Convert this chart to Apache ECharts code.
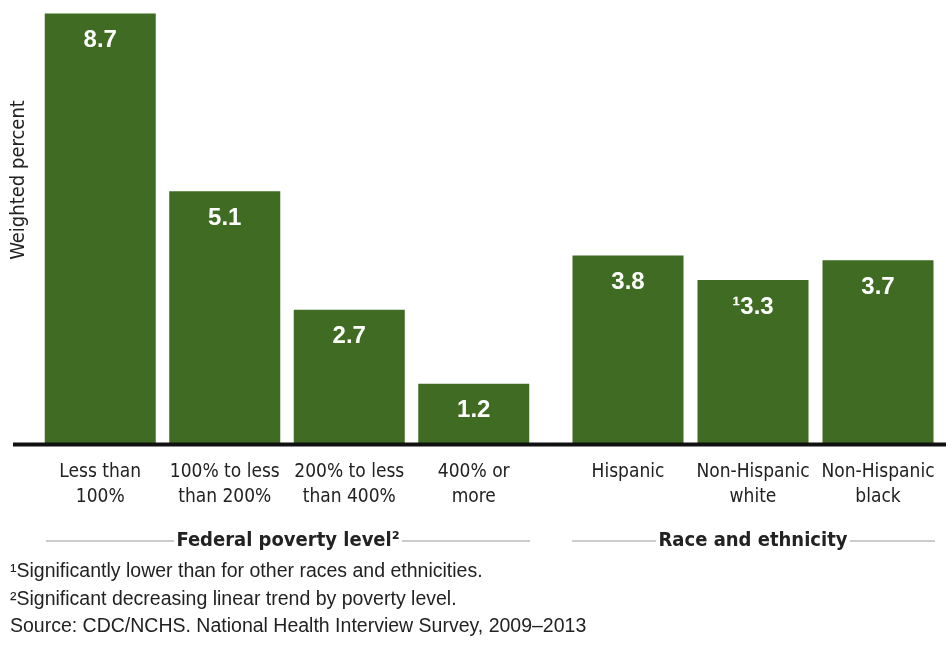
<!DOCTYPE html>
<html>
<head>
<meta charset="utf-8">
<script src="https://cdn.jsdelivr.net/npm/echarts@6/dist/echarts.min.js"></script>
<style>
  html, body { margin: 0; padding: 0; background: #fff; }
  #chart { width: 946px; height: 649px; }
</style>
</head>
<body>
<div id="chart"></div>
<script>
// Poverty-level group
const povertyCategories = ['Less than\n100%', '100% to less\nthan 200%', '200% to less\nthan 400%', '400% or\nmore'];
const povertyValues = [8.7, 5.1, 2.7, 1.2];
const povertyLabels = ['8.7', '5.1', '2.7', '1.2'];

// Race and ethnicity group
const raceCategories = ['Hispanic', 'Non-Hispanic\nwhite', 'Non-Hispanic\nblack'];
const raceValues = [3.8, 3.3, 3.7];
const raceLabels = ['3.8', '¹3.3', '3.7'];

const groupTitles = ['Federal poverty level²', 'Race and ethnicity'];
const yAxisTitle = 'Weighted percent';
const footnotes = [
  '¹Significantly lower than for other races and ethnicities.',
  '²Significant decreasing linear trend by poverty level.',
  'Source: CDC/NCHS. National Health Interview Survey, 2009–2013'
];

const GREEN = '#3f6b22';
const NARROW = '"Liberation Sans Narrow", "DejaVu Sans Condensed", "Arial Narrow", sans-serif';
const SANS = '"Liberation Sans", Arial, Helvetica, sans-serif';
const Y_MAX = 8.75;

function barSeries(values, labels, axisIndex) {
  return {
    type: 'bar',
    xAxisIndex: axisIndex,
    yAxisIndex: axisIndex,
    barWidth: 111,
    itemStyle: { color: GREEN },
    data: values,
    label: {
      show: true,
      position: 'insideTop',
      distance: 15,
      color: '#fff',
      fontFamily: SANS,
      fontWeight: 'bold',
      fontSize: 24,
      formatter: (p) => labels[p.dataIndex]
    },
    silent: true,
    animation: false
  };
}

function categoryAxis(cats, gridIndex) {
  return {
    type: 'category',
    gridIndex: gridIndex,
    data: cats,
    axisLine: { show: false },
    axisTick: { show: false },
    axisLabel: {
      margin: 17,
      color: '#222',
      fontFamily: NARROW,
      fontSize: 19,
      lineHeight: 25,
      interval: 0
    }
  };
}

function valueAxis(gridIndex) {
  return {
    type: 'value',
    gridIndex: gridIndex,
    min: 0,
    max: Y_MAX,
    show: false,
    splitLine: { show: false }
  };
}

const chart = echarts.init(document.getElementById('chart'), null, { renderer: 'canvas' });

const lineStyle = { stroke: '#999', lineWidth: 1 };
const groupY = 541;

chart.setOption({
  backgroundColor: '#fff',
  animation: false,
  grid: [
    { left: 38, width: 498, top: 11, height: 432 },
    { left: 565.5, width: 375, top: 11, height: 432 }
  ],
  xAxis: [categoryAxis(povertyCategories, 0), categoryAxis(raceCategories, 1)],
  yAxis: [valueAxis(0), valueAxis(1)],
  series: [
    barSeries(povertyValues, povertyLabels, 0),
    barSeries(raceValues, raceLabels, 1)
  ],
  graphic: [
    // baseline under the bars
    { type: 'line', shape: { x1: 13, y1: 444.5, x2: 946, y2: 444.5 }, style: { stroke: '#111', lineWidth: 4 }, z: 10 },
    // y-axis title
    {
      type: 'text', x: 19, y: 180, rotation: Math.PI / 2,
      style: { text: yAxisTitle, font: '20px ' + NARROW, fill: '#222', align: 'center', verticalAlign: 'middle' }
    },
    // group titles with rules
    { type: 'line', shape: { x1: 46, y1: groupY, x2: 174, y2: groupY }, style: lineStyle },
    { type: 'line', shape: { x1: 402, y1: groupY, x2: 530, y2: groupY }, style: lineStyle },
    {
      type: 'text', x: 288, y: groupY,
      style: { text: groupTitles[0], font: 'bold 20px ' + NARROW, fill: '#222', align: 'center', verticalAlign: 'middle' }
    },
    { type: 'line', shape: { x1: 572, y1: groupY, x2: 656, y2: groupY }, style: lineStyle },
    { type: 'line', shape: { x1: 850, y1: groupY, x2: 935, y2: groupY }, style: lineStyle },
    {
      type: 'text', x: 753, y: groupY,
      style: { text: groupTitles[1], font: 'bold 20px ' + NARROW, fill: '#222', align: 'center', verticalAlign: 'middle' }
    },
    // footnotes
    ...footnotes.map((t, i) => ({
      type: 'text', x: 10, y: 572 + i * 27.5,
      style: { text: t, font: '19.5px ' + SANS, fill: '#222', align: 'left', verticalAlign: 'middle' }
    }))
  ]
});
</script>
</body>
</html>
